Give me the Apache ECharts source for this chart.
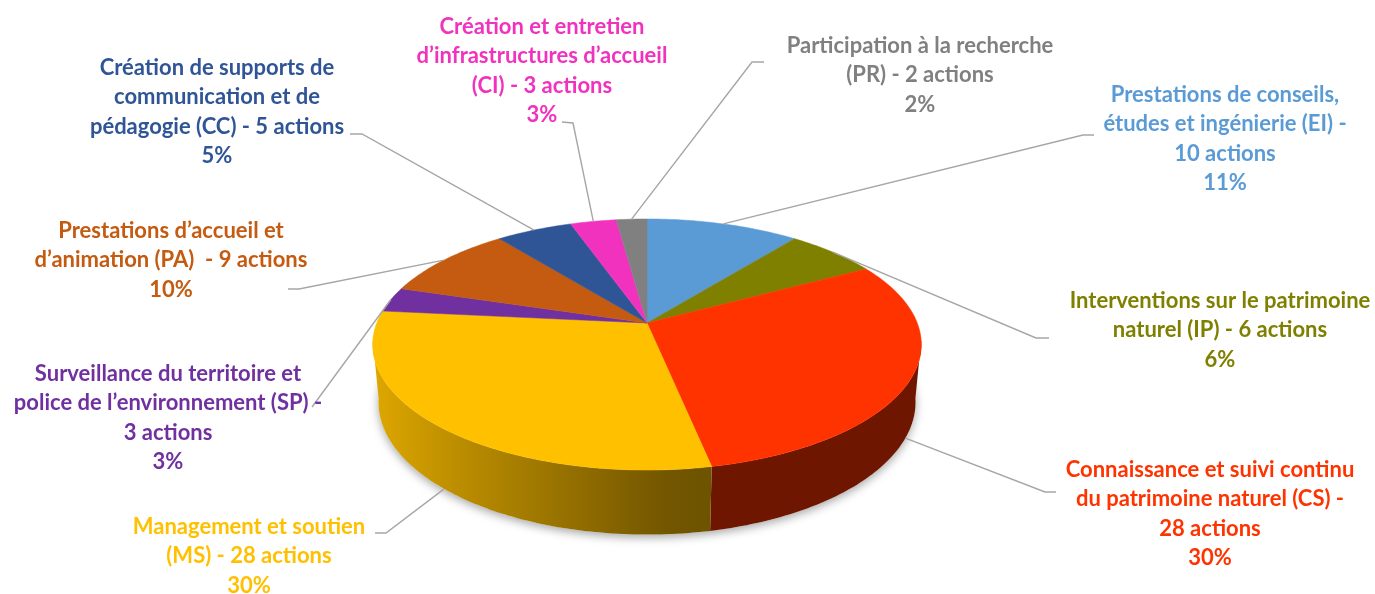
<!DOCTYPE html>
<html>
<head>
<meta charset="utf-8">
<script src="https://cdn.jsdelivr.net/npm/echarts@6/dist/echarts.min.js"></script>
<style>
  html, body { margin: 0; padding: 0; background: #fff; }
  #chart { width: 1375px; height: 594px; }
</style>
</head>
<body>
<div id="chart"></div>
<script>
// données : nombre d'actions par catégorie (sens horaire depuis midi)
var codes = ['EI', 'IP', 'CS', 'MS', 'SP', 'PA', 'CC', 'CI', 'PR']
var actions = [10, 6, 28, 28, 3, 9, 5, 3, 2]
var labels = [
  'Prestations de conseils,\nétudes et ingénierie (EI) -\n{n} actions',
  'Interventions sur le patrimoine\nnaturel (IP) - {n} actions',
  'Connaissance et suivi continu\ndu patrimoine naturel (CS) -\n{n} actions',
  'Management et soutien\n(MS) - {n} actions',
  'Surveillance du territoire et\npolice de l’environnement (SP) -\n{n} actions',
  'Prestations d’accueil et\nd’animation (PA)  - {n} actions',
  'Création de supports de\ncommunication et de\npédagogie (CC) - {n} actions',
  'Création et entretien\nd’infrastructures d’accueil\n(CI) - {n} actions',
  'Participation à la recherche\n(PR) - {n} actions'
]
var colors = ['#5B9BD5', '#7F7F00', '#FF3300', '#FFC000', '#7030A0', '#C55A11', '#2F5597', '#F032BE', '#808080']

// mise en page des étiquettes (centre du bloc) et des lignes de rappel
var labelPos = [[1225, 139], [1220, 330], [1210, 514], [249, 556], [168, 418], [171, 260], [217, 112], [542, 71], [920, 75]]
var leaderPts = [
  [[1094, 135], [1083, 135]],
  [[1049, 338], [1036, 338]],
  [[1056, 492], [1045, 492]],
  [[375, 533], [386, 533]],
  [[312, 407], [312, 407]],
  [[288, 289], [299, 289]],
  [[350, 134], [362, 134]],
  [[562, 122], [573, 123]],
  [[764, 62], [752, 62]]
]

// projection 3D en perspective
var P = { cx: 647, cy: 323, k: 1408, tilt: 26.8 * Math.PI / 180, dist: 5.21, h: 0.24 }
var total = actions.reduce(function (a, b) { return a + b }, 0)
var startAng = []
var acc = 0
actions.forEach(function (v) { startAng.push(acc / total * 360); acc += v })

function project (phi, z) {
  var rad = phi * Math.PI / 180
  var x = Math.sin(rad)
  var y = Math.cos(rad)
  var a = Math.sin(P.tilt)
  var c = Math.cos(P.tilt)
  var depth = P.dist + y * c - z * a
  var up = y * a + z * c
  return [P.cx + P.k * x / depth, P.cy - P.k * up / depth]
}

function shade (hex, s) {
  var n = parseInt(hex.slice(1), 16)
  var r = Math.round(((n >> 16) & 255) * s)
  var g = Math.round(((n >> 8) & 255) * s)
  var b = Math.round((n & 255) * s)
  return 'rgb(' + r + ',' + g + ',' + b + ')'
}

// lumière venant de la gauche
function wallLight (phi) {
  var rad = phi * Math.PI / 180
  var nl = -Math.sin(rad) - 0.1 * Math.cos(rad)
  return 0.43 + 0.45 * Math.max(0, nl)
}

function sliceRange (i) {
  return [startAng[i], startAng[i] + actions[i] / total * 360]
}

function renderBase (params, api) {
  var pts = []
  for (var p = 0; p <= 360; p += 2) pts.push(project(p, -P.h))
  return {
    type: 'polygon',
    shape: { points: pts },
    style: { fill: '#fff', shadowBlur: 10, shadowColor: 'rgba(0,0,0,0.35)', shadowOffsetY: 3 }
  }
}

function renderWall (params, api) {
  var i = params.dataIndex
  var rg = sliceRange(i)
  var a0 = Math.max(rg[0], 98)
  var a1 = Math.min(rg[1], 262)
  if (a1 <= a0) return { type: 'group', children: [] }
  var top = []
  var bottom = []
  var n = Math.ceil(a1 - a0)
  for (var j = 0; j <= n; j++) {
    var p = a0 + (a1 - a0) * j / n
    top.push(project(p, 0))
    bottom.unshift(project(p, -P.h))
  }
  var x0 = top[0][0]
  var x1 = top[top.length - 1][0]
  var stops = []
  for (var s = 0; s <= 12; s++) {
    var ph = a0 + (a1 - a0) * s / 12
    var off = (project(ph, 0)[0] - x0) / (x1 - x0)
    stops.push({ offset: Math.min(1, Math.max(0, off)), color: shade(colors[i], wallLight(ph)) })
  }
  var fill = { type: 'linear', x: x0, y: 0, x2: x1, y2: 0, global: true, colorStops: stops }
  return {
    type: 'polygon',
    shape: { points: top.concat(bottom) },
    style: { fill: fill }
  }
}

function renderTop (params, api) {
  var i = params.dataIndex
  var rg = sliceRange(i)
  var pts = [[P.cx, P.cy]]
  var steps = Math.max(2, Math.ceil(rg[1] - rg[0]))
  for (var j = 0; j <= steps; j++) pts.push(project(rg[0] + (rg[1] - rg[0]) * j / steps, 0))
  return {
    type: 'polygon',
    shape: { points: pts },
    style: { fill: colors[i], stroke: colors[i], lineWidth: 0.5 }
  }
}

function renderLabel (params, api) {
  var i = params.dataIndex
  var rg = sliceRange(i)
  var mid = (rg[0] + rg[1]) / 2
  var front = Math.cos(mid * Math.PI / 180) < -0.2
  var anchor = project(mid, front ? -P.h : 0)
  var pct = Math.round(api.value(0) / total * 100)
  var txt = labels[i].replace('{n}', api.value(0)) + '\n' + pct + '%'
  return {
    type: 'group',
    children: [{
      type: 'polyline',
      shape: { points: [leaderPts[i][0], leaderPts[i][1], anchor] },
      style: { stroke: '#A6A6A6', lineWidth: 1.4, fill: null }
    }, {
      type: 'text',
      x: labelPos[i][0],
      y: labelPos[i][1],
      style: {
        text: txt,
        fill: colors[i],
        font: 'bold 22px Lato',
        align: 'center',
        verticalAlign: 'middle',
        lineHeight: 29.5
      }
    }]
  }
}

var seriesData = actions.map(function (v, i) { return { name: codes[i], value: v } })

var option = {
  backgroundColor: '#fff',
  animation: false,
  series: [
    { type: 'custom', coordinateSystem: 'none', z: 1, renderItem: renderBase, data: [total] },
    { type: 'custom', coordinateSystem: 'none', z: 2, renderItem: renderWall, data: seriesData },
    { type: 'custom', coordinateSystem: 'none', z: 3, renderItem: renderTop, data: seriesData },
    { type: 'custom', coordinateSystem: 'none', z: 4, renderItem: renderLabel, data: seriesData }
  ]
}

echarts.init(document.getElementById('chart')).setOption(option)
</script>
</body>
</html>
